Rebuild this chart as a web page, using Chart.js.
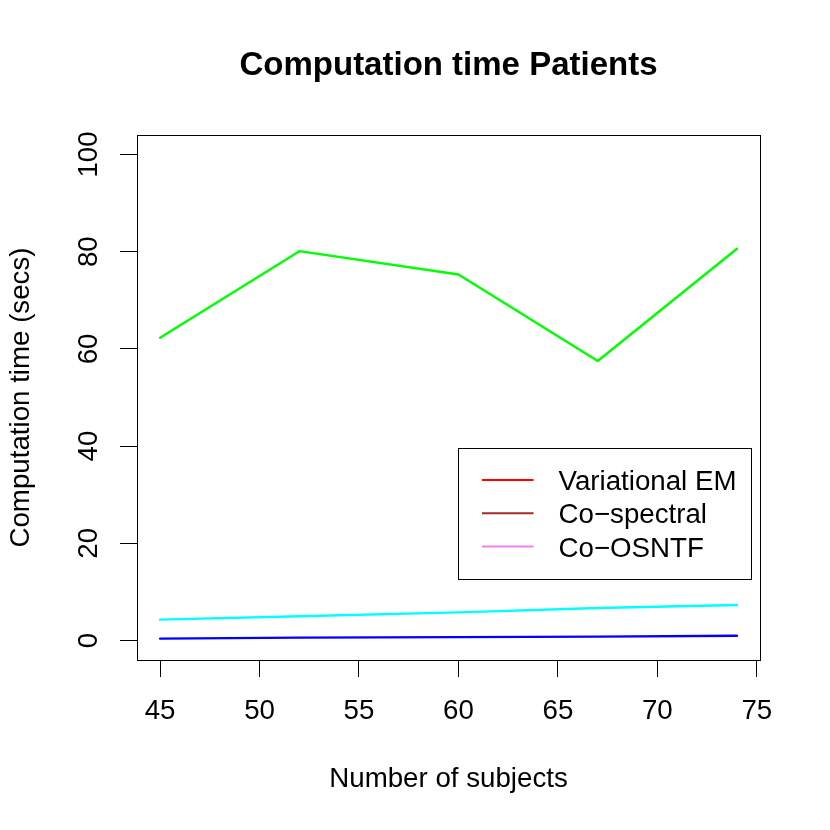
<!DOCTYPE html>
<html>
<head>
<meta charset="utf-8">
<title>Computation time Patients</title>
<script src="https://cdn.jsdelivr.net/npm/chart.js@4.4.1/dist/chart.umd.min.js"></script>
<style>
    html, body { margin: 0; padding: 0; background: #ffffff; }
    #wrap { width: 830px; height: 830px; }
</style>
</head>
<body>
<div id="wrap"><canvas id="chart" width="830" height="830"></canvas></div>
<script>
// ---- data ----
const subjects = [45, 52, 60, 67, 74];
const timeGreen = [62.3, 80.1, 75.3, 57.5, 80.6];
const timeCyan = [4.3, 5.0, 5.8, 6.7, 7.3];
const timeBlue = [0.4, 0.6, 0.7, 0.8, 1.0];

const xTicks = [45, 50, 55, 60, 65, 70, 75];
const yTicks = [0, 20, 40, 60, 80, 100];

const legendLabels = ['Variational EM', 'Co\u2212spectral', 'Co\u2212OSNTF'];
const legendColors = ['#ff0000', '#a52a2a', '#ee82ee'];

const FONT = '"Liberation Sans", Arial, Helvetica, sans-serif';
const BASE = 27.7;

function toPoints(ys) {
    return subjects.map((x, i) => ({ x: x, y: ys[i] }));
}

function lineSet(ys, color) {
    return {
        data: toPoints(ys),
        borderColor: color,
        borderWidth: 2.4,
        pointRadius: 0,
        tension: 0,
        fill: false,
        borderJoinStyle: 'round',
        borderCapStyle: 'round'
    };
}

// R style box, rotated y tick labels and the legend
const rBits = {
    id: 'rBits',
    afterDraw(chart) {
        const ctx = chart.ctx;
        const a = chart.chartArea;
        ctx.save();
        ctx.strokeStyle = '#000';
        ctx.lineWidth = 1;
        ctx.strokeRect(Math.round(a.left) + 0.5, Math.round(a.top) + 0.5,
            Math.round(a.right - a.left), Math.round(a.bottom - a.top));

        // y tick labels, read bottom to top
        const ys = chart.scales.y;
        ctx.fillStyle = '#000';
        ctx.font = BASE + 'px ' + FONT;
        ctx.textAlign = 'center';
        ctx.textBaseline = 'alphabetic';
        yTicks.forEach(v => {
            ctx.save();
            ctx.translate(a.left - 39.7, ys.getPixelForValue(v));
            ctx.rotate(-Math.PI / 2);
            ctx.fillText(String(v), 0, 0);
            ctx.restore();
        });

        // legend
        const bx = a.left + 321.5, by = a.top + 313.5;
        ctx.strokeRect(bx, by, 293, 131);
        ctx.textAlign = 'left';
        legendLabels.forEach((lab, i) => {
            const ly = by + 31.5 + i * 33.3;
            ctx.strokeStyle = legendColors[i];
            ctx.lineWidth = 2;
            ctx.beginPath();
            ctx.moveTo(bx + 23.5, ly);
            ctx.lineTo(bx + 75, ly);
            ctx.stroke();
            ctx.fillText(lab, bx + 100, ly + 10);
        });
        ctx.restore();
    }
};

new Chart(document.getElementById('chart'), {
    type: 'line',
    data: {
        datasets: [
            lineSet(timeGreen, '#00ff00'),
            lineSet(timeCyan, '#00ffff'),
            lineSet(timeBlue, '#0000ff')
        ]
    },
    options: {
        responsive: false,
        animation: false,
        layout: { padding: { left: 0, top: 0, right: 70, bottom: 0 } },
        plugins: {
            legend: { display: false },
            tooltip: { enabled: false },
            title: {
                display: true,
                text: 'Computation time Patients',
                color: '#000',
                fullSize: false,
                font: { family: FONT, size: 33, weight: 'bold', lineHeight: 1.2 },
                padding: { top: 46.5, bottom: 48.9 }
            }
        },
        scales: {
            x: {
                type: 'linear',
                min: 43.84,
                max: 75.16,
                afterBuildTicks: s => { s.ticks = xTicks.map(v => ({ value: v })); },
                afterFit: s => { s.height = 170; },
                border: { display: false },
                grid: {
                    drawOnChartArea: false,
                    drawTicks: true,
                    tickLength: 17,
                    tickColor: '#000',
                    lineWidth: 1
                },
                ticks: {
                    color: '#000',
                    padding: 17.5,
                    maxRotation: 0,
                    autoSkip: false,
                    font: { family: FONT, size: BASE, lineHeight: 1.2 }
                },
                title: {
                    display: true,
                    text: 'Number of subjects',
                    color: '#000',
                    font: { family: FONT, size: BASE, lineHeight: 1.2 },
                    padding: { top: 0, bottom: 34.5 }
                }
            },
            y: {
                type: 'linear',
                min: -4,
                max: 104,
                afterBuildTicks: s => { s.ticks = yTicks.map(v => ({ value: v })); },
                afterFit: s => { s.width = 137; },
                border: { display: false },
                grid: {
                    drawOnChartArea: false,
                    drawTicks: true,
                    tickLength: 17,
                    tickColor: '#000',
                    lineWidth: 1
                },
                ticks: {
                    color: 'rgba(0,0,0,0)',
                    font: { family: FONT, size: BASE }
                },
                title: {
                    display: true,
                    text: 'Computation time (secs)',
                    color: '#000',
                    font: { family: FONT, size: BASE, lineHeight: 1.2 },
                    padding: { top: 4.5, bottom: 0 }
                }
            }
        }
    },
    plugins: [rBits]
});
</script>
</body>
</html>
